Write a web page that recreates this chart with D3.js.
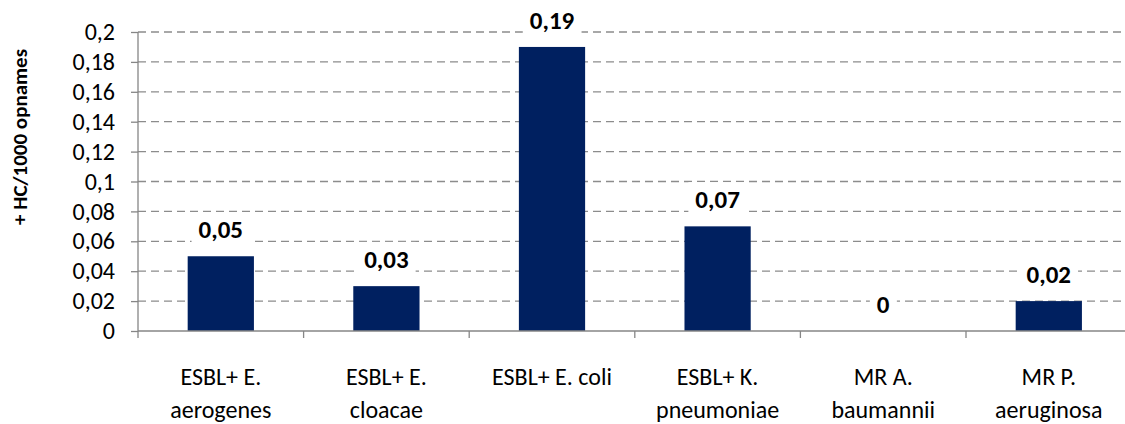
<!DOCTYPE html>
<html><head><meta charset="utf-8">
<script src="https://cdn.jsdelivr.net/npm/d3@7"></script>
<style>body{margin:0;background:#fff}svg{display:block}</style>
</head><body>
<script>
const categories = [["ESBL+ E.","aerogenes"],["ESBL+ E.","cloacae"],["ESBL+ E. coli"],["ESBL+ K.","pneumoniae"],["MR A.","baumannii"],["MR P.","aeruginosa"]];
const values = [0.05, 0.03, 0.19, 0.07, 0, 0.02];
const valueLabels = ["0,05","0,03","0,19","0,07","0","0,02"];
const yTicks = [0,0.02,0.04,0.06,0.08,0.1,0.12,0.14,0.16,0.18,0.2];
const yTickLabels = ["0","0,02","0,04","0,06","0,08","0,1","0,12","0,14","0,16","0,18","0,2"];
const yTitle = "+ HC/1000 opnames";

const W=1125,H=424;
const mLeft=138, mRight=1131.6, mTop=32, mBottom=331;
const font = "Carlito, Lato, 'Open Sans', sans-serif";
const svg=d3.select("body").append("svg").attr("width",W).attr("height",H);
const x=d3.scaleBand().domain(d3.range(categories.length)).range([mLeft,mRight]).paddingInner(0.6).paddingOuter(0.3);
const xb=d3.scaleBand().domain(d3.range(categories.length)).range([mLeft,mRight]);
const y=d3.scaleLinear().domain([0,0.2]).range([mBottom,mTop]);

// grid
svg.append("g").selectAll("line").data(yTicks.filter(d=>d>0)).join("line")
 .attr("x1",mLeft).attr("x2",mRight).attr("y1",d=>y(d)).attr("y2",d=>y(d))
 .attr("stroke","#8c8c8c").attr("stroke-width",1.3).attr("stroke-dasharray","8,5");

// bars
svg.append("g").selectAll("rect").data(values).join("rect")
 .attr("x",(d,i)=>x(i)).attr("width",x.bandwidth())
 .attr("y",d=>y(d)).attr("height",d=>mBottom-y(d)).attr("fill","#002060");

// y axis
const ya=d3.axisLeft(y).tickValues(yTicks).tickFormat((d,i)=>yTickLabels[i]).tickSize(7).tickPadding(16);
const gy=svg.append("g").attr("transform",`translate(${mLeft},0)`).call(ya);
gy.select(".domain").attr("stroke","#868686").attr("stroke-width",1.3).attr("d",`M0,${mTop}V${mBottom}`);
gy.selectAll(".tick line").attr("stroke","#868686").attr("stroke-width",1.3);
gy.selectAll(".tick text").attr("font-family",font).attr("font-size",24).attr("fill","#000");

// x axis
const gx=svg.append("g").attr("transform",`translate(0,${mBottom})`);
gx.append("line").attr("x1",mLeft).attr("x2",mRight).attr("stroke","#868686").attr("stroke-width",1.3);
gx.selectAll("line.t").data(d3.range(categories.length+1)).join("line").attr("class","t")
 .attr("x1",i=>mLeft+i*xb.bandwidth()).attr("x2",i=>mLeft+i*xb.bandwidth()).attr("y1",0).attr("y2",7)
 .attr("stroke","#868686").attr("stroke-width",1.3);
gx.selectAll("text").data(categories).join("text")
 .attr("text-anchor","middle").attr("font-family",font).attr("font-size",24).attr("fill","#000")
 .attr("transform",(d,i)=>`translate(${xb(i)+xb.bandwidth()/2},0)`)
 .each(function(d){ d3.select(this).selectAll("tspan").data(d).join("tspan").attr("x",0).attr("y",(t,j)=>54+j*33).text(t=>t);});

// value labels
const lg=svg.append("g");
values.forEach((v,i)=>{
  const cx=xb(i)+xb.bandwidth()/2, cy=y(v)-27;
  const t=lg.append("text").attr("x",cx).attr("y",cy).attr("dy","0.35em").attr("text-anchor","middle")
   .attr("font-family",font).attr("font-size",25).attr("font-weight","bold").attr("fill","#000").text(valueLabels[i]);
  const bb=t.node().getBBox();
  lg.insert("rect",()=>t.node()).attr("x",bb.x-7).attr("y",bb.y-2).attr("width",bb.width+14).attr("height",bb.height+4).attr("fill","#fff");
});

// y title
svg.append("text").attr("transform","translate(20,137) rotate(-90)").attr("text-anchor","middle").attr("dy","0.35em")
 .attr("font-family",font).attr("font-size",21).attr("font-weight","bold").attr("fill","#000").text(yTitle);
</script>
</body></html>
